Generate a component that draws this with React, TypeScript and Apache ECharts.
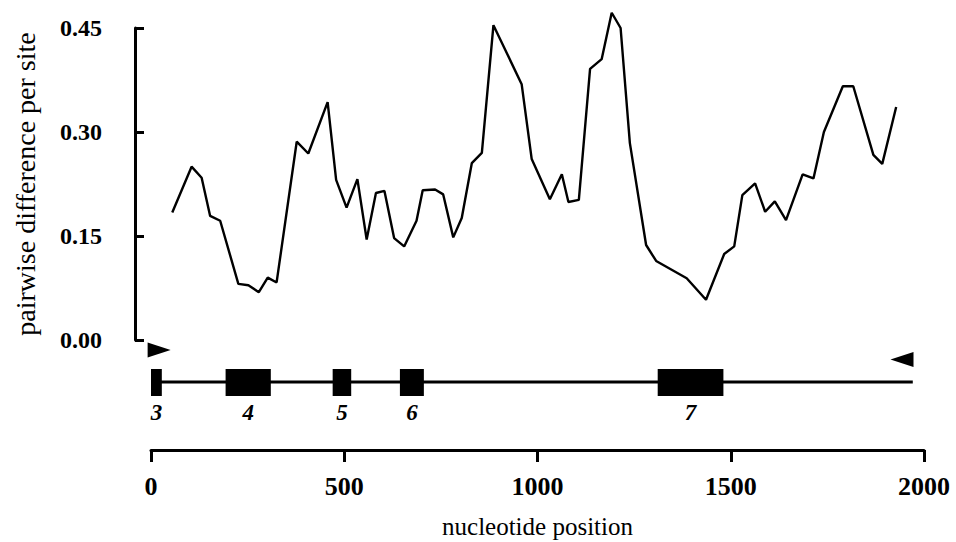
import React, { useEffect, useRef } from "react";
import * as echarts from "echarts";

// Sliding-window positions (nucleotide) and pairwise difference per site
const positions = [
  55, 105, 131, 153, 179, 226, 252, 279, 302, 325, 377, 407, 457, 479, 506, 534,
  558, 582, 604, 629, 655, 687, 703, 735, 756, 782, 804, 830, 856, 886, 959, 985,
  1032, 1063, 1080, 1107, 1136, 1166, 1192, 1215, 1239, 1281, 1307, 1386, 1436,
  1483, 1509, 1530, 1563, 1589, 1614, 1643, 1686, 1714, 1741, 1790, 1817, 1869,
  1892, 1928,
];
const diffs = [
  0.184, 0.25, 0.234, 0.179, 0.172, 0.081, 0.079, 0.069, 0.09, 0.083, 0.286, 0.269,
  0.343, 0.231, 0.191, 0.232, 0.145, 0.212, 0.215, 0.147, 0.135, 0.172, 0.216,
  0.217, 0.21, 0.148, 0.176, 0.255, 0.27, 0.454, 0.369, 0.261, 0.203, 0.239, 0.199,
  0.202, 0.391, 0.405, 0.472, 0.45, 0.284, 0.137, 0.114, 0.089, 0.058, 0.124,
  0.135, 0.209, 0.226, 0.185, 0.2, 0.173, 0.239, 0.233, 0.3, 0.366, 0.366, 0.267,
  0.254, 0.336,
];

// Gene structure
const exonNames = ["3", "4", "5", "6", "7"];
const exonStarts = [0, 193, 470, 644, 1311];
const exonEnds = [28, 310, 518, 706, 1481];
const geneStart = 0;
const geneEnd = 1971;
const forwardPrimer = 21;
const reversePrimer = 1943;

// Axis settings
const xMin = 0;
const xMax = 2000;
const xInterval = 500;
const yMin = 0;
const yMax = 0.45;
const yInterval = 0.15;

// Layout constants for the gene track (in track units, 1 unit = 1px)
const TRACK_MAX = 110;
const GENE_Y = 68;
const EXON_TOP = 81;
const EXON_BOTTOM = 54;
const LABEL_Y = 38;
const FWD_Y = 100;
const REV_Y = 90.5;

const SERIF = '"Liberation Serif", "Times New Roman", serif';

export default function App() {
  const ref = useRef<HTMLDivElement>(null);

  useEffect(() => {
    if (!ref.current) return;
    const chart = echarts.init(ref.current, null, { renderer: "svg" });

    const lineData = positions.map((p, i) => [p, diffs[i]]);
    const exonData = exonStarts.map((s, i) => [s, exonEnds[i], i]);

    const option: any = {
      animation: false,
      backgroundColor: "#ffffff",
      grid: [
        { left: 151, right: 32, top: 28, bottom: 202 },
        { left: 151, right: 32, top: 340, bottom: 92 },
      ],
      xAxis: [
        {
          gridIndex: 0,
          type: "value",
          min: xMin,
          max: xMax,
          show: false,
        },
        {
          gridIndex: 1,
          type: "value",
          min: xMin,
          max: xMax,
          interval: xInterval,
          position: "bottom",
          axisLine: { show: true, onZero: false, lineStyle: { color: "#000", width: 3 } },
          axisTick: { show: true, length: 12, lineStyle: { color: "#000", width: 3 } },
          splitLine: { show: false },
          axisLabel: {
            color: "#000",
            fontFamily: SERIF,
            fontWeight: "bold",
            fontSize: 26,
            margin: 23,
            formatter: (v: number) => String(v),
          },
          name: "nucleotide position",
          nameLocation: "middle",
          nameGap: 64,
          nameTextStyle: { color: "#000", fontFamily: SERIF, fontSize: 25 },
        },
      ],
      yAxis: [
        {
          gridIndex: 0,
          type: "value",
          min: yMin,
          max: yMax,
          interval: yInterval,
          offset: 16,
          axisLine: { show: true, onZero: false, lineStyle: { color: "#000", width: 3 } },
          axisTick: { show: true, inside: true, length: 9, lineStyle: { color: "#000", width: 3 } },
          splitLine: { show: false },
          axisLabel: {
            color: "#000",
            fontFamily: SERIF,
            fontWeight: "bold",
            fontSize: 24,
            margin: 33,
            formatter: (v: number) => v.toFixed(2),
          },
          name: "pairwise difference per site",
          nameLocation: "middle",
          nameGap: 96,
          nameTextStyle: { color: "#000", fontFamily: SERIF, fontSize: 28 },
        },
        {
          gridIndex: 1,
          type: "value",
          min: 0,
          max: TRACK_MAX,
          show: false,
        },
      ],
      series: [
        {
          type: "line",
          xAxisIndex: 0,
          yAxisIndex: 0,
          data: lineData,
          showSymbol: false,
          symbol: "none",
          clip: false,
          lineStyle: { color: "#000", width: 2.4 },
          silent: true,
        },
        {
          type: "line",
          xAxisIndex: 1,
          yAxisIndex: 1,
          data: [
            [geneStart, GENE_Y],
            [geneEnd, GENE_Y],
          ],
          symbol: "none",
          clip: false,
          lineStyle: { color: "#000", width: 3 },
          silent: true,
        },
        {
          type: "custom",
          xAxisIndex: 1,
          yAxisIndex: 1,
          data: exonData,
          encode: { x: [0, 1] },
          clip: false,
          silent: true,
          renderItem: (params: any, api: any) => {
            const s = api.value(0);
            const e = api.value(1);
            const p1 = api.coord([s, EXON_TOP]);
            const p2 = api.coord([e, EXON_BOTTOM]);
            const lab = api.coord([(s + e) / 2, LABEL_Y]);
            return {
              type: "group",
              children: [
                {
                  type: "rect",
                  shape: { x: p1[0], y: p1[1], width: p2[0] - p1[0], height: p2[1] - p1[1] },
                  style: { fill: "#000" },
                },
                {
                  type: "text",
                  x: lab[0],
                  y: lab[1],
                  style: {
                    text: exonNames[params.dataIndex],
                    fill: "#000",
                    font: `italic bold 23px ${SERIF}`,
                    align: "center",
                    verticalAlign: "middle",
                  },
                },
              ],
            };
          },
        },
        {
          type: "scatter",
          xAxisIndex: 1,
          yAxisIndex: 1,
          data: [[forwardPrimer, FWD_Y]],
          symbol: "path://M0,0 L22,7 L0,14 Z",
          symbolSize: [23, 15],
          clip: false,
          itemStyle: { color: "#000", opacity: 1 },
          silent: true,
        },
        {
          type: "scatter",
          xAxisIndex: 1,
          yAxisIndex: 1,
          data: [[reversePrimer, REV_Y]],
          symbol: "path://M22,0 L0,7 L22,14 Z",
          symbolSize: [23, 15],
          clip: false,
          itemStyle: { color: "#000", opacity: 1 },
          silent: true,
        },
      ],
    };

    chart.setOption(option);
    return () => chart.dispose();
  }, []);

  return (
    <div
      ref={ref}
      style={{ position: "fixed", left: 0, top: 0, width: 956, height: 542, background: "#fff" }}
    />
  );
}
